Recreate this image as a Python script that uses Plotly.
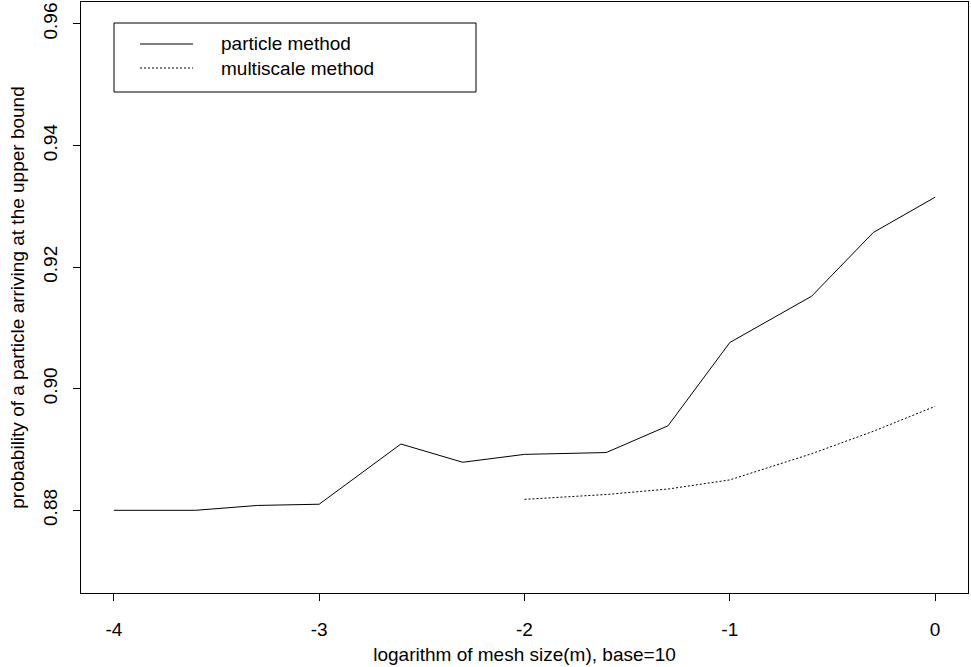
import plotly.graph_objects as go

# ---- data ----
x_particle = [-4, -3.602, -3.301, -3, -2.602, -2.301, -2, -1.602, -1.301, -1, -0.602, -0.301, 0]
y_particle = [0.8800, 0.8800, 0.8808, 0.8810, 0.8909, 0.8879, 0.8892, 0.8895, 0.8939, 0.9076, 0.9152, 0.9257, 0.9315]
x_multi = [-2, -1.602, -1.301, -1, -0.602, -0.301, 0]
y_multi = [0.8818, 0.8826, 0.8835, 0.8850, 0.8893, 0.8930, 0.8971]
x_ticks = [-4, -3, -2, -1, 0]
x_ticktext = ["-4", "-3", "-2", "-1", "0"]
y_ticks = [0.88, 0.90, 0.92, 0.94, 0.96]
y_ticktext = ["0.88", "0.90", "0.92", "0.94", "0.96"]
series_names = ["particle method", "multiscale method"]

W, H = 971, 667
ML, MR, MT, MB = 81, 3, 2, 74
PW, PH = W - ML - MR, H - MT - MB
FONT = "Liberation Sans, Arial, Helvetica, sans-serif"
FS = 19


def px_x(px):
    return (px - ML) / PW


def px_y(py):
    return (H - MB - py) / PH


fig = go.Figure()
fig.add_trace(go.Scatter(x=x_particle, y=y_particle, mode="lines", name=series_names[0],
                         line=dict(color="black", width=1), showlegend=False))
fig.add_trace(go.Scatter(x=x_multi, y=y_multi, mode="lines", name=series_names[1],
                         line=dict(color="black", width=1, dash="2px,2px"), showlegend=False))

# legend drawn as decoration (R-style box legend)
shapes = [
    dict(type="rect", xref="paper", yref="paper", x0=px_x(114), x1=px_x(476),
         y0=px_y(92), y1=px_y(23), line=dict(color="black", width=1)),
    dict(type="line", xref="paper", yref="paper", x0=px_x(140), x1=px_x(193),
         y0=px_y(44), y1=px_y(44), line=dict(color="black", width=1)),
    dict(type="line", xref="paper", yref="paper", x0=px_x(140), x1=px_x(193),
         y0=px_y(68), y1=px_y(68), line=dict(color="black", width=1, dash="2px,2px")),
]
annotations = [
    dict(xref="paper", yref="paper", x=px_x(219), y=px_y(44), text=series_names[0],
         showarrow=False, xanchor="left", yanchor="middle", font=dict(size=FS, color="black", family=FONT)),
    dict(xref="paper", yref="paper", x=px_x(219), y=px_y(68), text=series_names[1],
         showarrow=False, xanchor="left", yanchor="middle", font=dict(size=FS, color="black", family=FONT)),
]

fig.update_layout(
    width=W, height=H,
    margin=dict(l=ML, r=MR, t=MT, b=MB, pad=0),
    paper_bgcolor="white", plot_bgcolor="white",
    font=dict(family=FONT, size=FS, color="black"),
    shapes=shapes, annotations=annotations,
    showlegend=False,
    xaxis=dict(range=[-4.16, 0.16], tickvals=x_ticks, ticktext=x_ticktext,
               showgrid=False, zeroline=False, showline=True, linecolor="black", linewidth=1,
               mirror=True, ticks="outside", ticklen=7, tickcolor="black", tickwidth=1,
               ticklabelstandoff=12,
               title=dict(text="logarithm of mesh size(m), base=10", standoff=8,
                          font=dict(size=FS, family=FONT))),
    yaxis=dict(range=[0.8664, 0.9636], tickvals=y_ticks, ticktext=y_ticktext,
               showgrid=False, zeroline=False, showline=True, linecolor="black", linewidth=1,
               mirror=True, ticks="outside", ticklen=7, tickcolor="black", tickwidth=1,
               tickangle=-90, ticklabelstandoff=8,
               title=dict(text="probability of a particle arriving at the upper bound", standoff=10,
                          font=dict(size=FS, family=FONT))),
)

fig.write_html("out.html")
